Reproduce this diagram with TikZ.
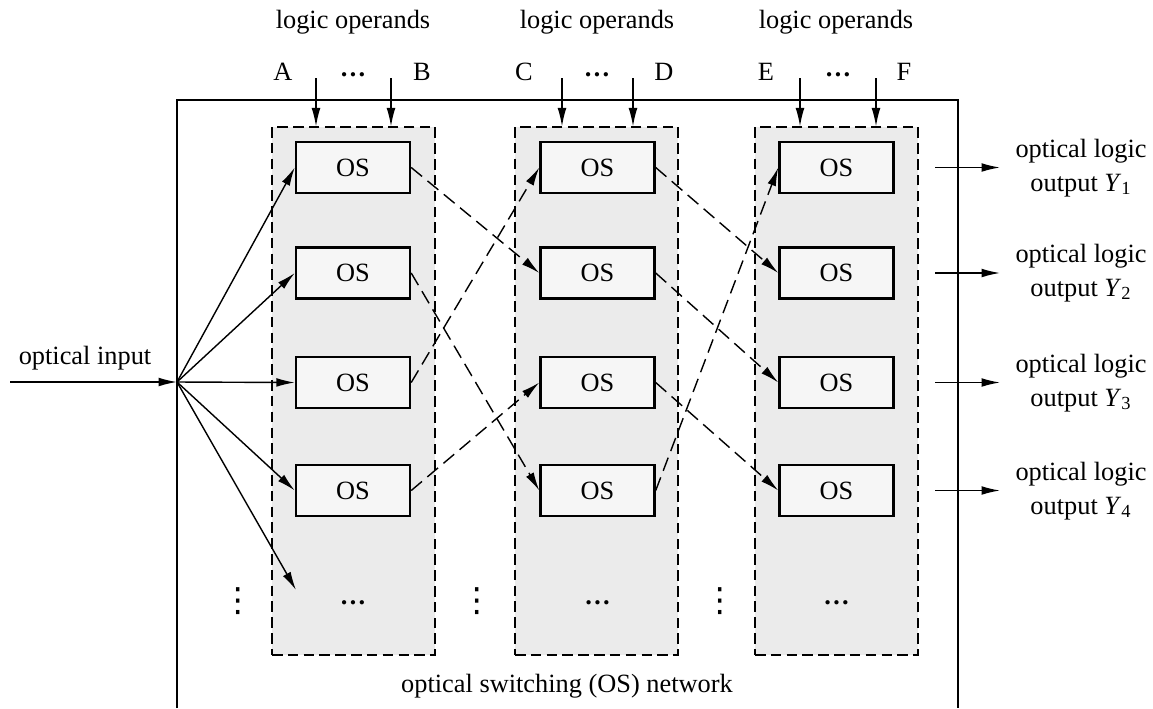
\documentclass[tikz,border=0pt]{standalone}
\usepackage{fontspec}
\setmainfont{Liberation Serif}
\newfontfamily\dotfont{DejaVu Sans}
\usetikzlibrary{arrows.meta,positioning}
\definecolor{colgray}{RGB}{235,235,235}
\definecolor{osgray}{RGB}{246,246,246}
\tikzset{
  colbox/.style={draw, dash pattern=on 6pt off 3pt, fill=colgray, line width=0.7pt,
    minimum width=3.26cm, minimum height=10.56cm},
  osbox/.style={draw, fill=osgray, line width=1.4pt, minimum width=2.28cm, minimum height=1.02cm},
  sig/.style={-{Latex[length=10.5pt,width=5pt]}, line width=0.8pt},
  cross/.style={sig, dash pattern=on 8pt off 4pt},
  vdot/.style={font=\dotfont\fontsize{19}{19}\selectfont, inner sep=0pt},
}
\begin{document}
\begin{tikzpicture}[x=0.02cm,y=-0.02cm,font=\fontsize{15}{19}\selectfont]
\useasboundingbox (0,0) rectangle (1153,708);
% Network frame (open at the bottom)
\draw[line width=1.6pt] (177,708) -- (177,100) -- (958,100) -- (958,708);
% Switching columns
\node[colbox] (c1) at (353.5,391) {};
\node[colbox] (c2) at (596.5,391) {};
\node[colbox] (c3) at (836.5,391) {};
% OS units
\node[osbox] (os11) at (353,167.5) {OS};
\node[osbox] (os12) at (353,273) {OS};
\node[osbox] (os13) at (353,382.5) {OS};
\node[osbox] (os14) at (353,490.5) {OS};
\node[osbox] (os21) at (597.5,167.5) {OS};
\node[osbox] (os22) at (597.5,273) {OS};
\node[osbox] (os23) at (597.5,382.5) {OS};
\node[osbox] (os24) at (597.5,490.5) {OS};
\node[osbox] (os31) at (836.5,167.5) {OS};
\node[osbox] (os32) at (836.5,273) {OS};
\node[osbox] (os33) at (836.5,382.5) {OS};
\node[osbox] (os34) at (836.5,490.5) {OS};
% Continuation marks
\node (more1) at (353,603) {\textbf{\ldots}};
\node (more2) at (597.5,603) {\textbf{\ldots}};
\node (more3) at (836.5,603) {\textbf{\ldots}};
\node[vdot] (vd1) at (238,601) {⋮};
\node[vdot] (vd2) at (477,601) {⋮};
\node[vdot] (vd3) at (720,601) {⋮};
\node (net) at (567,686) {optical switching (OS) network};
% Logic operands
\node (lo1) at (353,22) {logic operands};
\node (lo2) at (597,22) {logic operands};
\node (lo3) at (836,22) {logic operands};
\node (lA) at (283,72) {A};
\node (d1) at (353,75) {\textbf{\ldots}};
\node (lB) at (422,72) {B};
\node (lC) at (524,72) {C};
\node (d2) at (597,75) {\textbf{\ldots}};
\node (lD) at (664,72) {D};
\node (lE) at (766,72) {E};
\node (d3) at (838,75) {\textbf{\ldots}};
\node (lF) at (904,72) {F};
\coordinate (tA) at (316,78);
\coordinate (tB) at (391,78);
\coordinate (tC) at (562,78);
\coordinate (tD) at (633,78);
\coordinate (tE) at (800,78);
\coordinate (tF) at (876,78);
\draw[sig] (tA) -- (tA |- c1.north);
\draw[sig] (tB) -- (tB |- c1.north);
\draw[sig] (tC) -- (tC |- c2.north);
\draw[sig] (tD) -- (tD |- c2.north);
\draw[sig] (tE) -- (tE |- c3.north);
\draw[sig] (tF) -- (tF |- c3.north);
% Optical input and fan-out
\node (inlab) at (85,358) {optical input};
\coordinate (src) at (10,382);
\coordinate (split) at (177,382);
\coordinate (fan5) at (296,590);
\draw[sig] (src) -- (split);
\draw[sig] (split) -- (os11.west);
\draw[sig] (split) -- (os12.west);
\draw[sig] (split) -- (os13.west);
\draw[sig] (split) -- (os14.west);
\draw[sig] (split) -- (fan5);
% Cross connections
\draw[cross] (os11.east) -- (os22.west);
\draw[cross] (os12.east) -- (os24.west);
\draw[cross] (os13.east) -- (os21.west);
\draw[cross] (os14.east) -- (os23.west);
\draw[cross] (os21.east) -- (os32.west);
\draw[cross] (os22.east) -- (os33.west);
\draw[cross] (os23.east) -- (os34.west);
\draw[cross] (os24.east) -- (os31.west);
% Outputs
\coordinate (o1a) at (935,167.5);
\coordinate (o1b) at (1000,167.5);
\coordinate (o2a) at (935,273);
\coordinate (o2b) at (1000,273);
\coordinate (o3a) at (935,382.5);
\coordinate (o3b) at (1000,382.5);
\coordinate (o4a) at (935,490.5);
\coordinate (o4b) at (1000,490.5);
\draw[sig] (o1a) -- (o1b);
\draw[sig] (o2a) -- (o2b);
\draw[sig] (o3a) -- (o3b);
\draw[sig] (o4a) -- (o4b);
\node[align=center] (y1) at (1081,168) {optical logic\\output \textit{Y}\textsubscript{1}};
\node[align=center] (y2) at (1081,273) {optical logic\\output \textit{Y}\textsubscript{2}};
\node[align=center] (y3) at (1081,383) {optical logic\\output \textit{Y}\textsubscript{3}};
\node[align=center] (y4) at (1081,491) {optical logic\\output \textit{Y}\textsubscript{4}};
\end{tikzpicture}
\end{document}
